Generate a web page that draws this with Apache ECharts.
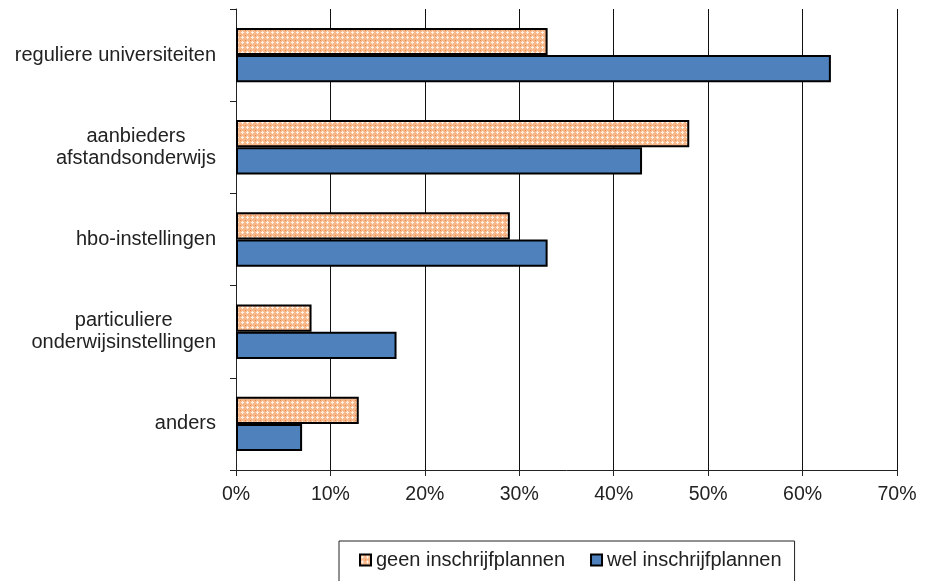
<!DOCTYPE html>
<html>
<head>
<meta charset="utf-8">
<script src="https://cdn.jsdelivr.net/npm/echarts@6/dist/echarts.min.js"></script>
<style>
  html, body { margin: 0; padding: 0; background: #fff; }
  #chart { width: 927px; height: 581px; }
</style>
</head>
<body>
<div id="chart"></div>
<script>
// Aanbieders waar men zich (wel/niet) wil inschrijven, in procenten
const categories = [
  'reguliere universiteiten',
  'aanbieders\nafstandsonderwijs',
  'hbo-instellingen',
  'particuliere\nonderwijsinstellingen',
  'anders'
];
const geenInschrijfplannen = [33, 48, 29, 8, 13];
const welInschrijfplannen = [63, 43, 33, 17, 7];
const seriesNames = ['geen inschrijfplannen', 'wel inschrijfplannen'];

// Small tile for the peach cross-hatched fill
function makePattern() {
  const c = document.createElement('canvas');
  c.width = 5; c.height = 5;
  const ctx = c.getContext('2d');
  ctx.fillStyle = '#f7b98c';
  ctx.fillRect(0, 0, 5, 5);
  ctx.fillStyle = '#fff1e4';
  ctx.fillRect(2, 1, 1, 3);
  ctx.fillRect(1, 2, 3, 1);
  ctx.fillStyle = '#ee8844';
  ctx.fillRect(0, 0, 1, 1);
  return c;
}
const hatch = { image: makePattern(), repeat: 'repeat' };

const font = 'Liberation Sans, Arial, sans-serif';
const chart = echarts.init(document.getElementById('chart'));
chart.setOption({
  animation: false,
  grid: { left: 236, right: 30, top: 9, bottom: 111, containLabel: false },
  xAxis: {
    type: 'value',
    min: 0, max: 70, interval: 10,
    axisLine: { show: true, lineStyle: { color: '#222', width: 1 } },
    axisTick: { show: true, length: 6, lineStyle: { color: '#222' } },
    splitLine: { show: true, lineStyle: { color: '#111', width: 1 } },
    axisLabel: {
      formatter: '{value}%', color: '#222', fontFamily: font, fontSize: 19.5, margin: 15
    }
  },
  yAxis: {
    type: 'category',
    data: categories,
    inverse: true,
    axisLine: { show: true, lineStyle: { color: '#222', width: 1 } },
    axisTick: { show: true, length: 6, lineStyle: { color: '#222' } },
    axisLabel: {
      color: '#222', margin: 20,
      formatter: v => v.split('\n').map(l => '{c|' + l + '}').join('\n'),
      rich: {
        c: { align: 'center', fontFamily: font, fontSize: 20, lineHeight: 22, color: '#222' }
      }
    }
  },
  legend: {
    data: seriesNames,
    left: 339, top: 541,
    itemWidth: 11, itemHeight: 11, itemGap: 25,
    padding: [9, 13, 16, 20],
    borderColor: '#222', borderWidth: 1,
    textStyle: { color: '#222', fontFamily: font, fontSize: 20 },
    icon: 'rect'
  },
  series: [
    {
      name: seriesNames[0], type: 'bar', data: geenInschrijfplannen,
      barGap: '0%', barCategoryGap: '41%',
      itemStyle: { color: hatch, borderColor: '#000', borderWidth: 2 }
    },
    {
      name: seriesNames[1], type: 'bar', data: welInschrijfplannen,
      barGap: '0%', barCategoryGap: '41%',
      itemStyle: { color: '#4f81bd', borderColor: '#000', borderWidth: 2 }
    }
  ]
});
</script>
</body>
</html>
